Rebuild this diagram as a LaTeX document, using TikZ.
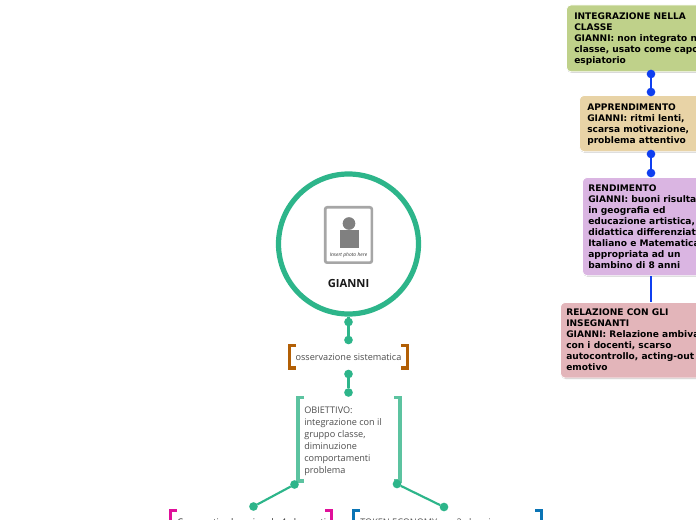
\documentclass[tikz,border=0pt]{standalone}
\usepackage{xcolor}
\usepackage{fontspec}
\setmainfont{Open Sans}
\newfontfamily\boxfont{DejaVu Sans}
\definecolor{mapgreen}{HTML}{2DB58A}
\definecolor{mapblue}{HTML}{0F3FF0}
\definecolor{mapbrown}{HTML}{B25F05}
\definecolor{maplight}{HTML}{5CC3A0}
\definecolor{mappink}{HTML}{E0109A}
\definecolor{mapsea}{HTML}{0A74B5}
\definecolor{boxgreen}{HTML}{BFD18A}
\definecolor{boxsand}{HTML}{E8D3A6}
\definecolor{boxlilac}{HTML}{DAB5E2}
\definecolor{boxrose}{HTML}{E3B5BA}
\usetikzlibrary{arrows.meta,positioning,calc,shadows}
\tikzset{
  px/.style={x=0.75pt,y=-0.75pt},
  topic/.style={draw=white,line width=0.6pt,rounded corners=3.5pt,anchor=north west,inner sep=0pt},
  topicshadow/.style={drop shadow={shadow xshift=0.4pt,shadow yshift=-0.7pt,fill=black!45}},
  topictext/.style={anchor=north west,align=left,inner sep=0pt,text=black,
    font=\boxfont\bfseries\fontsize{6.8}{8.25}\selectfont},
  dotgreen/.style={circle,fill=mapgreen,inner sep=0pt,outer sep=0pt,minimum size=6.5pt},
  dotblue/.style={circle,fill=mapblue,inner sep=0pt,outer sep=0pt,minimum size=6.5pt},
  greenline/.style={draw=mapgreen,line width=1.6pt},
  blueline/.style={draw=mapblue,line width=1.6pt},
  note/.style={font=\fontsize{6.85}{9}\selectfont,text=black!70,inner sep=0pt,align=left},
  brownbracket/.style={draw=mapbrown,line width=2.8pt},
  lightbracket/.style={draw=maplight,line width=2.4pt},
  pinkbracket/.style={draw=mappink,line width=2.8pt},
  seabracket/.style={draw=mapsea,line width=2.8pt},
}
\begin{document}
\begin{tikzpicture}[px]
\useasboundingbox (0,0) rectangle (696,520);
\clip (0,0) rectangle (696,520);

% right hand column
\node[topic,topicshadow,fill=boxgreen,minimum width=102pt,minimum height=50.25pt] (integrazione) at (566,4.5) {};
\node[topictext] (integrazionetext) at (574,13) {INTEGRAZIONE NELLA\\CLASSE\\GIANNI: non integrato nella\\classe, usato come capo\\espiatorio};
\node[topic,topicshadow,fill=boxsand,minimum width=92pt,minimum height=42.25pt] (apprendimento) at (579,95) {};
\node[topictext] (apprendimentotext) at (587,104) {APPRENDIMENTO\\GIANNI: ritmi lenti,\\scarsa motivazione,\\problema attentivo};
\node[topic,topicshadow,fill=boxlilac,minimum width=90pt,minimum height=73.75pt] (rendimento) at (582,177) {};
\node[topictext] (rendimentotext) at (588,185) {RENDIMENTO\\GIANNI: buoni risultati\\in geografia ed\\educazione artistica,\\didattica differenziata\\Italiano e Matematica\\appropriata ad un\\bambino di 8 anni};
\node[topic,topicshadow,fill=boxrose,minimum width=107pt,minimum height=56.75pt] (relazione) at (560,302) {};
\node[topictext] (relazionetext) at (566,309) {RELAZIONE CON GLI\\INSEGNANTI\\GIANNI: Relazione ambivalente\\con i docenti, scarso\\autocontrollo, acting-out\\emotivo};

\node[dotblue] (blueA) at (651,74) {};
\node[dotblue] (blueB) at (651,92) {};
\node[dotblue] (blueC) at (651,154) {};
\node[dotblue] (blueD) at (651,173) {};
\draw[blueline] (blueA) -- (blueB);
\draw[blueline] (blueC) -- (blueD);
\draw[blueline] (rendimento.south -| blueD) -- (relazione.north -| blueD);

% central topic
\node[circle,draw=mapgreen,line width=3.9pt,fill=white,minimum size=105pt,inner sep=0pt] (gianni) at (348.5,244) {};
\node[draw=black!35,line width=2pt,rounded corners=1.5pt,fill=white,minimum width=35pt,minimum height=41.5pt,inner sep=0pt] (photo) at (348.5,235) {};
\node[circle,fill=black!50,minimum size=9.5pt,inner sep=0pt] (photohead) at (349,223.5) {};
\node[fill=black!50,minimum width=14pt,minimum height=13.5pt,inner sep=0pt] (photobody) at (349.5,239) {};
\node[inner sep=0pt,font=\itshape\fontsize{3.7}{4}\selectfont,text=black!80] (phototext) at (348.5,255.5) {Insert photo here};
\node[inner sep=0pt,font=\bfseries\fontsize{8.4}{9}\selectfont,text=black!90] (giannitext) at (348.5,283.5) {GIANNI};

\node[dotgreen] (greenA) at (348.5,322) {};
\node[dotgreen] (greenB) at (348.5,340) {};
\node[dotgreen] (greenC) at (348.5,374) {};
\node[dotgreen] (greenD) at (348.5,392.5) {};
\draw[greenline] (gianni) -- (greenA);
\draw[greenline] (greenA) -- (greenB);
\draw[greenline] (greenC) -- (greenD);

\node[note] (osservazione) at (348.5,357) {osservazione sistematica};
\draw[brownbracket] (296,345.5) -- (289.5,345.5) -- (289.5,368) -- (296,368);
\draw[brownbracket] (401,345.5) -- (407.5,345.5) -- (407.5,368) -- (401,368);

\node[note,anchor=north west] (obiettivo) at (304,407) {OBIETTIVO:\\integrazione con il\\gruppo classe,\\diminuzione\\comportamenti\\problema};
\draw[lightbracket] (304,397.5) -- (298,397.5) -- (298,481) -- (304,481);
\draw[lightbracket] (394,397.5) -- (400,397.5) -- (400,481) -- (394,481);

\node[dotgreen] (greenE) at (294.5,484.5) {};
\node[dotgreen] (greenF) at (253.5,506.5) {};
\node[dotgreen] (greenG) at (397,484) {};
\node[dotgreen] (greenH) at (444,507) {};
\draw[greenline] (greenE) -- (greenF);
\draw[greenline] (greenG) -- (greenH);

% bottom row, cut by the page edge
\draw[pinkbracket] (177,510.5) -- (170.5,510.5) -- (170.5,530);
\draw[pinkbracket] (325,510.5) -- (331.5,510.5) -- (331.5,530);
\draw[seabracket] (360,510.5) -- (353.5,510.5) -- (353.5,530);
\draw[seabracket] (535,510.5) -- (541.5,510.5) -- (541.5,530);
\node[note,anchor=north west,text=black!85] (cooperative) at (177,518) {Cooperative learning da 4 elementi};
\node[note,anchor=north west] (token) at (360,518) {TOKEN ECONOMY per 2 alunni};
\end{tikzpicture}
\end{document}
